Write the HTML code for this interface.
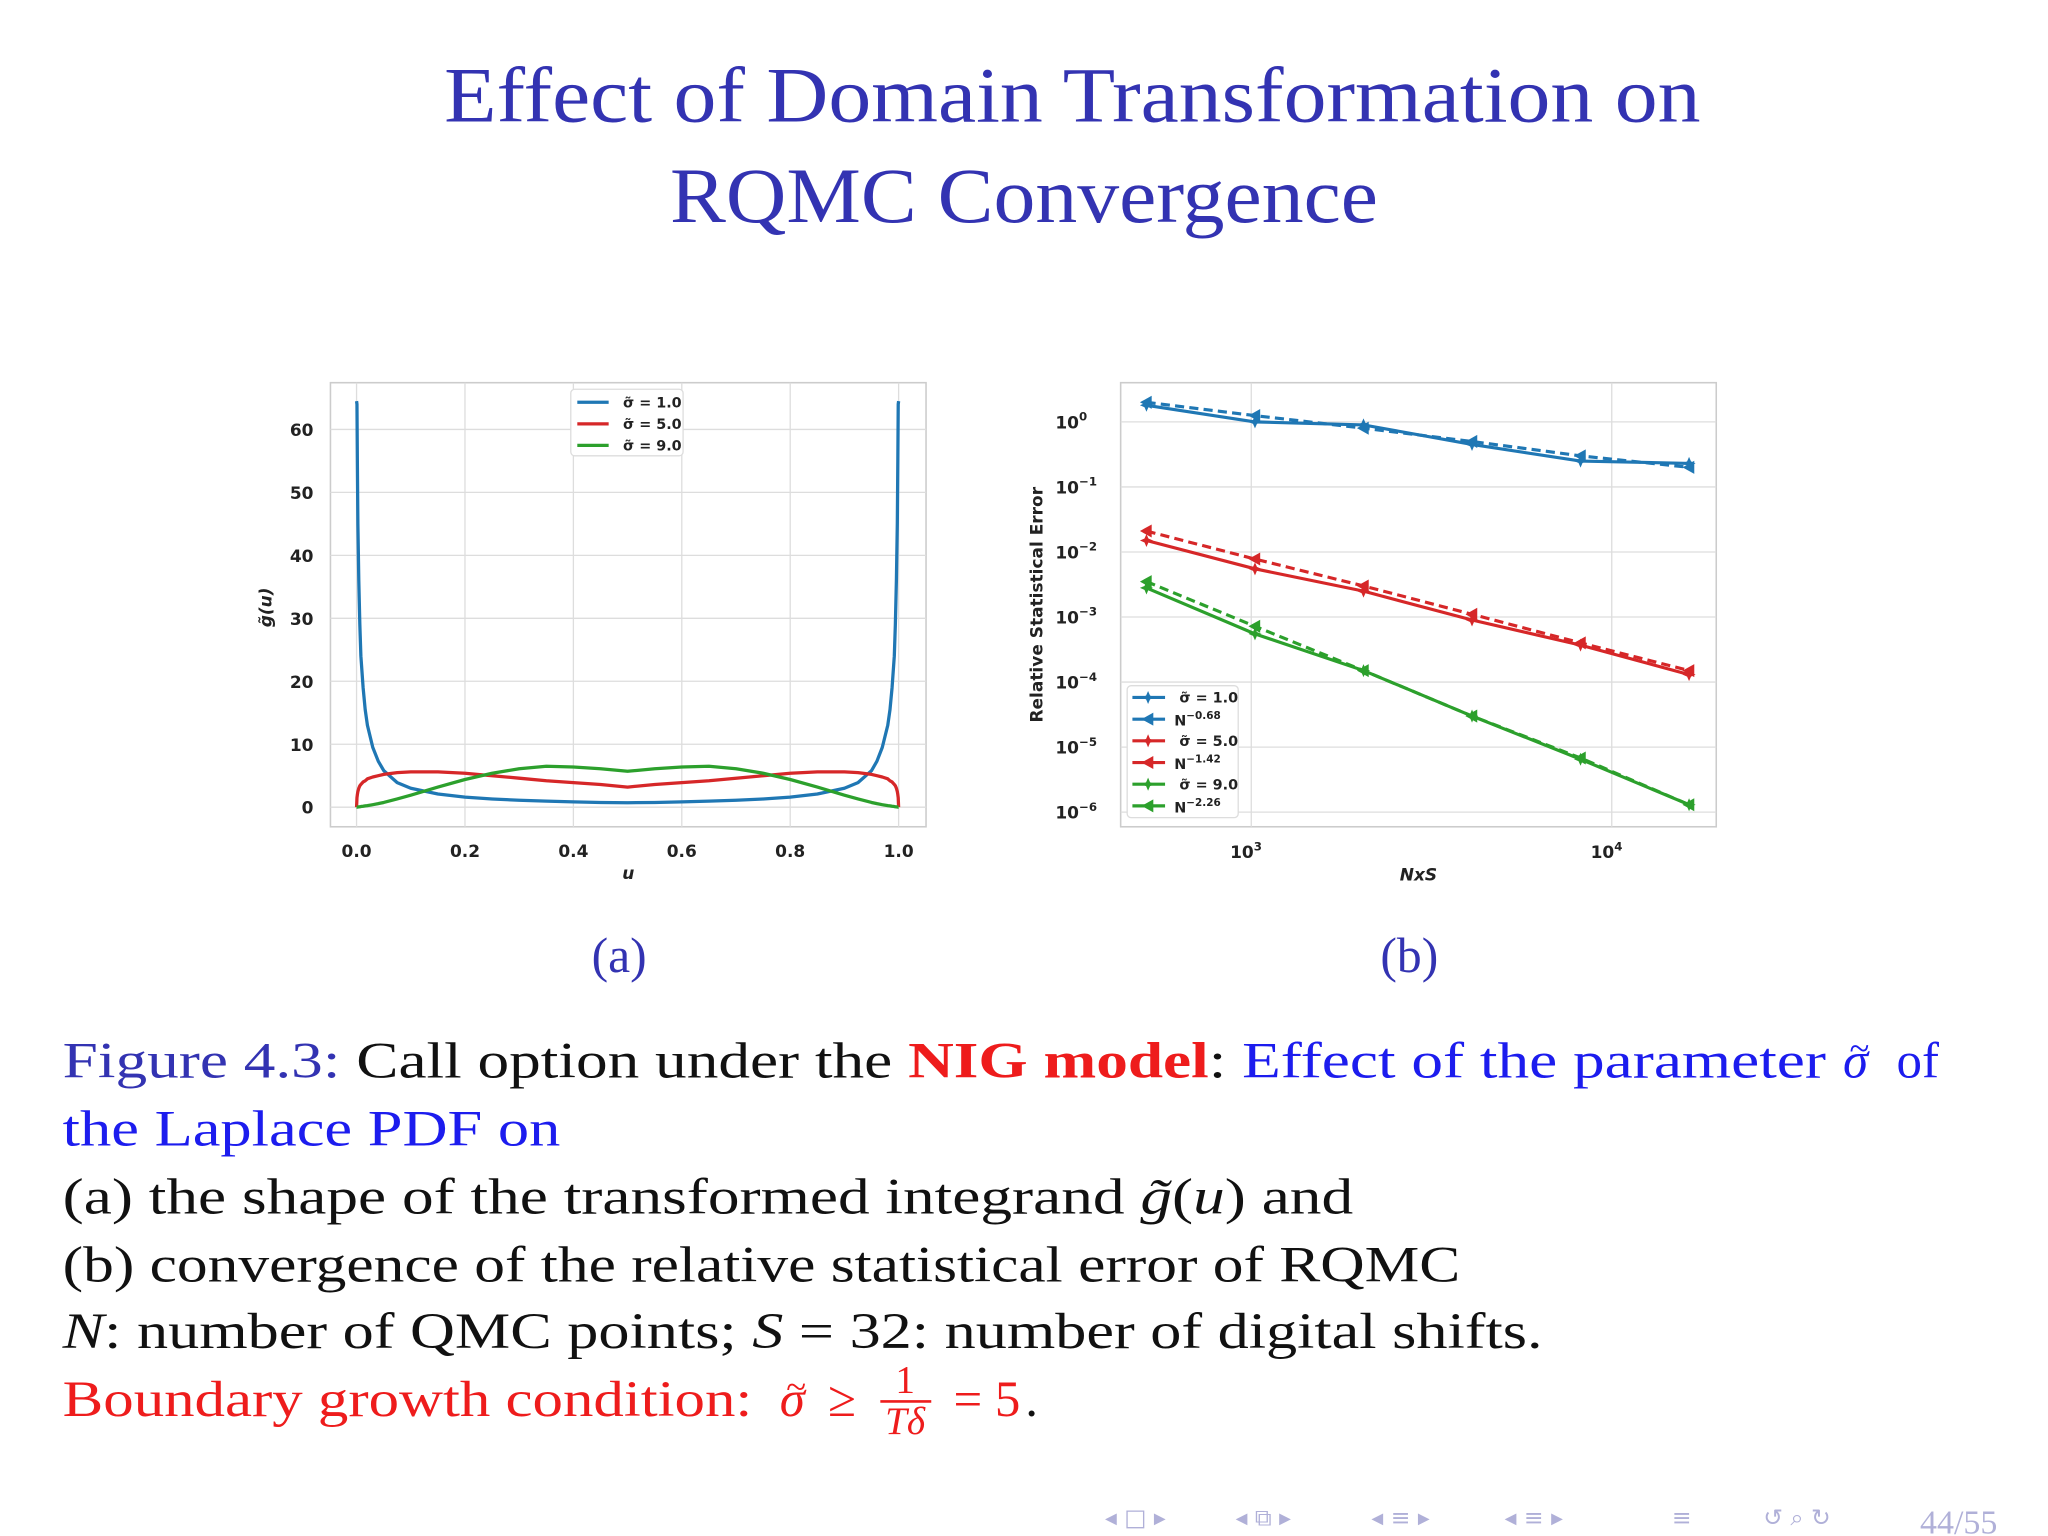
<!DOCTYPE html>
<html><head><meta charset="utf-8">
<style>html,body{margin:0;padding:0;background:#fff;overflow:hidden}svg{display:block}</style>
</head><body>
<svg id="s" width="2048" height="1536" viewBox="0 0 1568 1176" preserveAspectRatio="none" xmlns="http://www.w3.org/2000/svg">
<g font-family="'Liberation Serif',serif" fill="#3333b2" font-size="60" text-anchor="middle">
<text x="821" y="93" textLength="962" lengthAdjust="spacingAndGlyphs">Effect of Domain Transformation on</text>
<text x="784" y="170" textLength="542" lengthAdjust="spacingAndGlyphs">RQMC Convergence</text>
</g>
<g id="ca"></g>
<g id="cb"></g>
<text x="474" y="744" font-family="'Liberation Serif',serif" font-size="38" fill="#3333b2" text-anchor="middle">(a)</text>
<text x="1079" y="744" font-family="'Liberation Serif',serif" font-size="38" fill="#3333b2" text-anchor="middle">(b)</text>
<g font-family="'Liberation Serif',serif" font-size="39">
<text x="48" y="825" textLength="1350" lengthAdjust="spacingAndGlyphs"><tspan fill="#3333b2">Figure 4.3:</tspan> <tspan fill="#111">Call option under the</tspan> <tspan fill="#ee1c1c" font-weight="bold">NIG model</tspan><tspan fill="#111">:</tspan> <tspan fill="#1c1cee">Effect of the parameter</tspan></text>
<text x="1411" y="825" fill="#1c1cee" font-style="italic">σ</text>
<text x="1416" y="812" fill="#1c1cee" font-size="28">~</text>
<text x="1452" y="825" fill="#1c1cee">of</text>
<text x="48" y="877" fill="#1c1cee" textLength="381" lengthAdjust="spacingAndGlyphs">the Laplace PDF on</text>
<text x="48" y="929" fill="#111" textLength="988" lengthAdjust="spacingAndGlyphs">(a) the shape of the transformed integrand <tspan font-style="italic">g̃</tspan>(<tspan font-style="italic">u</tspan>) and</text>
<text x="48" y="981" fill="#111" textLength="1070" lengthAdjust="spacingAndGlyphs">(b) convergence of the relative statistical error of RQMC</text>
<text x="48" y="1032" fill="#111" textLength="1133" lengthAdjust="spacingAndGlyphs"><tspan font-style="italic">N</tspan>: number of QMC points; <tspan font-style="italic">S</tspan> = 32: number of digital shifts.</text>
<text x="48" y="1084" fill="#ee1c1c" textLength="528" lengthAdjust="spacingAndGlyphs">Boundary growth condition:</text>
<text x="597" y="1084" fill="#ee1c1c" font-style="italic">σ</text>
<text x="602" y="1071" fill="#ee1c1c" font-size="28">~</text>
<text x="634" y="1084" fill="#ee1c1c">≥</text>
<text x="693" y="1066" fill="#ee1c1c" font-size="30" text-anchor="middle">1</text>
<line x1="674" y1="1073" x2="713" y2="1073" stroke="#ee1c1c" stroke-width="2"/>
<text x="693" y="1098" fill="#ee1c1c" font-size="30" font-style="italic" text-anchor="middle">Tδ</text>
<text x="730" y="1084" fill="#ee1c1c">= 5</text><text x="785" y="1084" fill="#111">.</text>
</g>
<g font-family="'DejaVu Sans',sans-serif" fill="#b0b0d8" font-size="18">
<text x="846" y="1168">◂ □ ▸</text><text x="946" y="1168">◂ ⧉ ▸</text><text x="1050" y="1168">◂ ≡ ▸</text><text x="1152" y="1168">◂ ≡ ▸</text><text x="1280" y="1168">≡</text><text x="1350" y="1168">↺ ⌕ ↻</text>
<text x="1470" y="1174" font-family="'Liberation Serif',serif" font-size="26">44/55</text>
</g>
</svg>
<script>
// ---- chart a data ----
const uVals=[0,0.0008,0.0015,0.0025,0.004,0.006,0.008,0.012,0.016,0.02,0.03,0.04,0.05,0.075,0.1,0.15,0.2,0.25,0.3,0.35,0.4,0.45,0.5,0.55,0.6,0.65,0.7,0.75,0.8,0.85,0.9,0.925,0.95,0.96,0.97,0.98,0.984,0.988,0.992,0.994,0.996,0.9975,0.9985,0.9992,1];
const gBlue=[64.5,64,55,45,36,29,24,19,15.5,13,9.5,7.3,5.8,3.9,3,2.1,1.6,1.3,1.1,0.95,0.85,0.75,0.7,0.75,0.85,0.95,1.1,1.3,1.6,2.1,3,3.9,5.8,7.3,9.5,13,15.5,19,24,29,36,45,55,64,64.5];
const gRed=[0,1.5,2,2.5,3,3.4,3.6,4,4.2,4.5,4.8,5,5.2,5.5,5.6,5.6,5.4,5,4.6,4.2,3.9,3.6,3.2,3.6,3.9,4.2,4.6,5,5.4,5.6,5.6,5.5,5.2,5,4.8,4.5,4.2,4,3.6,3.4,3,2.5,2,1.5,0];
const gGreen=[0,0.01,0.02,0.03,0.05,0.07,0.1,0.15,0.2,0.25,0.4,0.55,0.75,1.3,1.9,3.2,4.4,5.4,6.1,6.5,6.4,6.1,5.7,6.1,6.4,6.5,6.1,5.4,4.4,3.2,1.9,1.3,0.75,0.55,0.4,0.25,0.2,0.15,0.1,0.07,0.05,0.03,0.02,0.01,0];
const aXTicks=["0.0","0.2","0.4","0.6","0.8","1.0"];
const aYTicks=["0","10","20","30","40","50","60"];
const aLegend=["σ̃ = 1.0","σ̃ = 5.0","σ̃ = 9.0"];
// ---- chart b data ----
const nVals=[512,1024,2048,4096,8192,16384];
const bBlueS=[1.8,1.0,0.9,0.45,0.25,0.23];
const bBlueD=[2.0,1.25,0.8,0.5,0.3,0.2];
const bRedS=[0.015,0.0055,0.0025,0.0009,0.00037,0.00013];
const bRedD=[0.021,0.0078,0.003,0.0011,0.0004,0.00015];
const bGreenS=[0.0028,0.00055,0.00015,0.00003,0.0000065,0.0000013];
const bGreenD=[0.0035,0.00072,0.00015,0.00003,0.0000068,0.0000013];
const bYExp=["0","−1","−2","−3","−4","−5","−6"];
const bXExp=["3","4"];
const bLegend=["σ̃ = 1.0","N−0.68","σ̃ = 5.0","N−1.42","σ̃ = 9.0","N−2.26"];

const NS="http://www.w3.org/2000/svg";
const BL="#1f77b4",RD="#d62728",GR="#2ca02c";
function mk(p,t,a,txt){const e=document.createElementNS(NS,t);for(const k in a)e.setAttribute(k,a[k]);if(txt!=null)e.textContent=txt;p.appendChild(e);return e;}
const F="'DejaVu Sans','Liberation Sans',sans-serif";

// chart a
const ca=document.getElementById('ca');
const axX=u=>273+u*415, axY=v=>618-v*4.82;
let e=mk(ca,'rect',{x:253,y:293,width:456,height:340,fill:'#fff',stroke:'#ccc','stroke-width':1.2});

aXTicks.forEach((t,i)=>{const x=axX(i*0.2);
 let g=mk(ca,'line',{x1:x,x2:x,y1:293,y2:633,stroke:'#ddd','stroke-width':1});
 
 let l=mk(ca,'text',{x:x,y:656,'font-family':F,'font-size':13,'font-weight':'bold','text-anchor':'middle',fill:'#222'},t);
 });
aYTicks.forEach((t,i)=>{const y=axY(i*10);
 let g=mk(ca,'line',{x1:253,x2:709,y1:y,y2:y,stroke:'#ddd','stroke-width':1});
 
 let l=mk(ca,'text',{x:240,y:y+5,'font-family':F,'font-size':13,'font-weight':'bold','text-anchor':'end',fill:'#222'},t);
 });
[[gBlue,BL],[gRed,RD],[gGreen,GR]].forEach(([arr,c],k)=>{
 const d=arr.map((v,i)=>(i?'L':'M')+axX(uVals[i]).toFixed(1)+','+axY(v).toFixed(1)).join('');
 let p=mk(ca,'path',{d:d,fill:'none',stroke:c,'stroke-width':2.5,'stroke-linejoin':'round'});
 });
e=mk(ca,'text',{x:481,y:673,'font-family':F,'font-size':13,'font-weight':'bold','font-style':'italic','text-anchor':'middle',fill:'#222'},'u');

e=mk(ca,'text',{x:0,y:0,transform:'translate(208,465) rotate(-90)','font-family':F,'font-size':13,'font-weight':'bold','font-style':'italic','text-anchor':'middle',fill:'#222'},'g̃(u)');

const lga=mk(ca,'g',{});
mk(lga,'rect',{x:437,y:298,width:86,height:51,rx:3,fill:'#fff',stroke:'#ddd'});
aLegend.forEach((t,i)=>{const y=308+i*16.5;
 let l=mk(lga,'line',{x1:442,x2:466,y1:y,y2:y,stroke:[BL,RD,GR][i],'stroke-width':2.5});
 
 mk(lga,'text',{x:477,y:y+4,'font-family':F,'font-size':11,'font-weight':'bold',fill:'#222'},t);});

// chart b
const cb=document.getElementById('cb');
const bx=n=>958+(Math.log10(n)-3)*276, by=v=>323-Math.log10(v)*49.8;
e=mk(cb,'rect',{x:858,y:293,width:456,height:340,fill:'#fff',stroke:'#ccc','stroke-width':1.2});

bXExp.forEach(t=>{const x=bx(Math.pow(10,+t));
 let g=mk(cb,'line',{x1:x,x2:x,y1:293,y2:633,stroke:'#ddd'});
 
 let l=mk(cb,'text',{x:x-4,y:657,'font-family':F,'font-size':13,'font-weight':'bold','text-anchor':'middle',fill:'#222'});
 
 mk(l,'tspan',{},'10');mk(l,'tspan',{dy:-6,'font-size':9},t);});
bYExp.forEach((t,i)=>{const y=by(Math.pow(10,-i));
 let g=mk(cb,'line',{x1:858,x2:1314,y1:y,y2:y,stroke:'#ddd'});
 
 let l=mk(cb,'text',{x:808,y:y+5,'font-family':F,'font-size':13,'font-weight':'bold',fill:'#222'});
 
 mk(l,'tspan',{},'10');mk(l,'tspan',{dy:-6,'font-size':9},t);});
function star(p,x,y,c){mk(p,'path',{d:`M${x},${y-5}L${x+1.5},${y-1.5}L${x+5},${y}L${x+1.5},${y+1.5}L${x},${y+5}L${x-1.5},${y+1.5}L${x-5},${y}L${x-1.5},${y-1.5}Z`,fill:c});}
function tri(p,x,y,c){mk(p,'path',{d:`M${x-5},${y}L${x+4},${y-5}L${x+4},${y+5}Z`,fill:c});}
const ser=[[bBlueS,BL,0,'blue-measured'],[bBlueD,BL,1,'blue-fit'],[bRedS,RD,0,'red-measured'],[bRedD,RD,1,'red-fit'],[bGreenS,GR,0,'green-measured'],[bGreenD,GR,1,'green-fit']];
ser.forEach(([arr,c,dash,nm])=>{
 const g=mk(cb,'g',{});
 const d=arr.map((v,i)=>(i?'L':'M')+bx(nVals[i]).toFixed(1)+','+by(v).toFixed(1)).join('');
 const a={d:d,fill:'none',stroke:c,'stroke-width':2.4};if(dash)a['stroke-dasharray']='7,4';
 mk(g,'path',a);
 arr.forEach((v,i)=>dash?tri(g,bx(nVals[i]),by(v),c):star(g,bx(nVals[i]),by(v),c));});
e=mk(cb,'text',{x:1086,y:674,'font-family':F,'font-size':13,'font-weight':'bold','font-style':'italic','text-anchor':'middle',fill:'#222'},'NxS');

e=mk(cb,'text',{x:0,y:0,transform:'translate(798,463) rotate(-90)','font-family':F,'font-size':13,'font-weight':'bold','text-anchor':'middle',fill:'#222'},'Relative Statistical Error');

const lgb=mk(cb,'g',{});
mk(lgb,'rect',{x:863,y:525,width:85,height:101,rx:3,fill:'#fff',stroke:'#ddd'});
bLegend.forEach((t,i)=>{const y=534+i*16.6,c=[BL,BL,RD,RD,GR,GR][i];
 let l=mk(lgb,'line',{x1:867,x2:892,y1:y,y2:y,stroke:c,'stroke-width':2.4});
 
 if(i%2)tri(lgb,879,y,c);else star(lgb,879,y,c);
 if(i%2){const tx=mk(lgb,'text',{x:899,y:y+5,'font-family':F,'font-size':11,'font-weight':'bold',fill:'#222'});
  mk(tx,'tspan',{},'N');mk(tx,'tspan',{dy:-5,'font-size':8},t.slice(1));}
 else mk(lgb,'text',{x:903,y:y+4,'font-family':F,'font-size':11,'font-weight':'bold',fill:'#222'},t);});
</script>
</body></html>
